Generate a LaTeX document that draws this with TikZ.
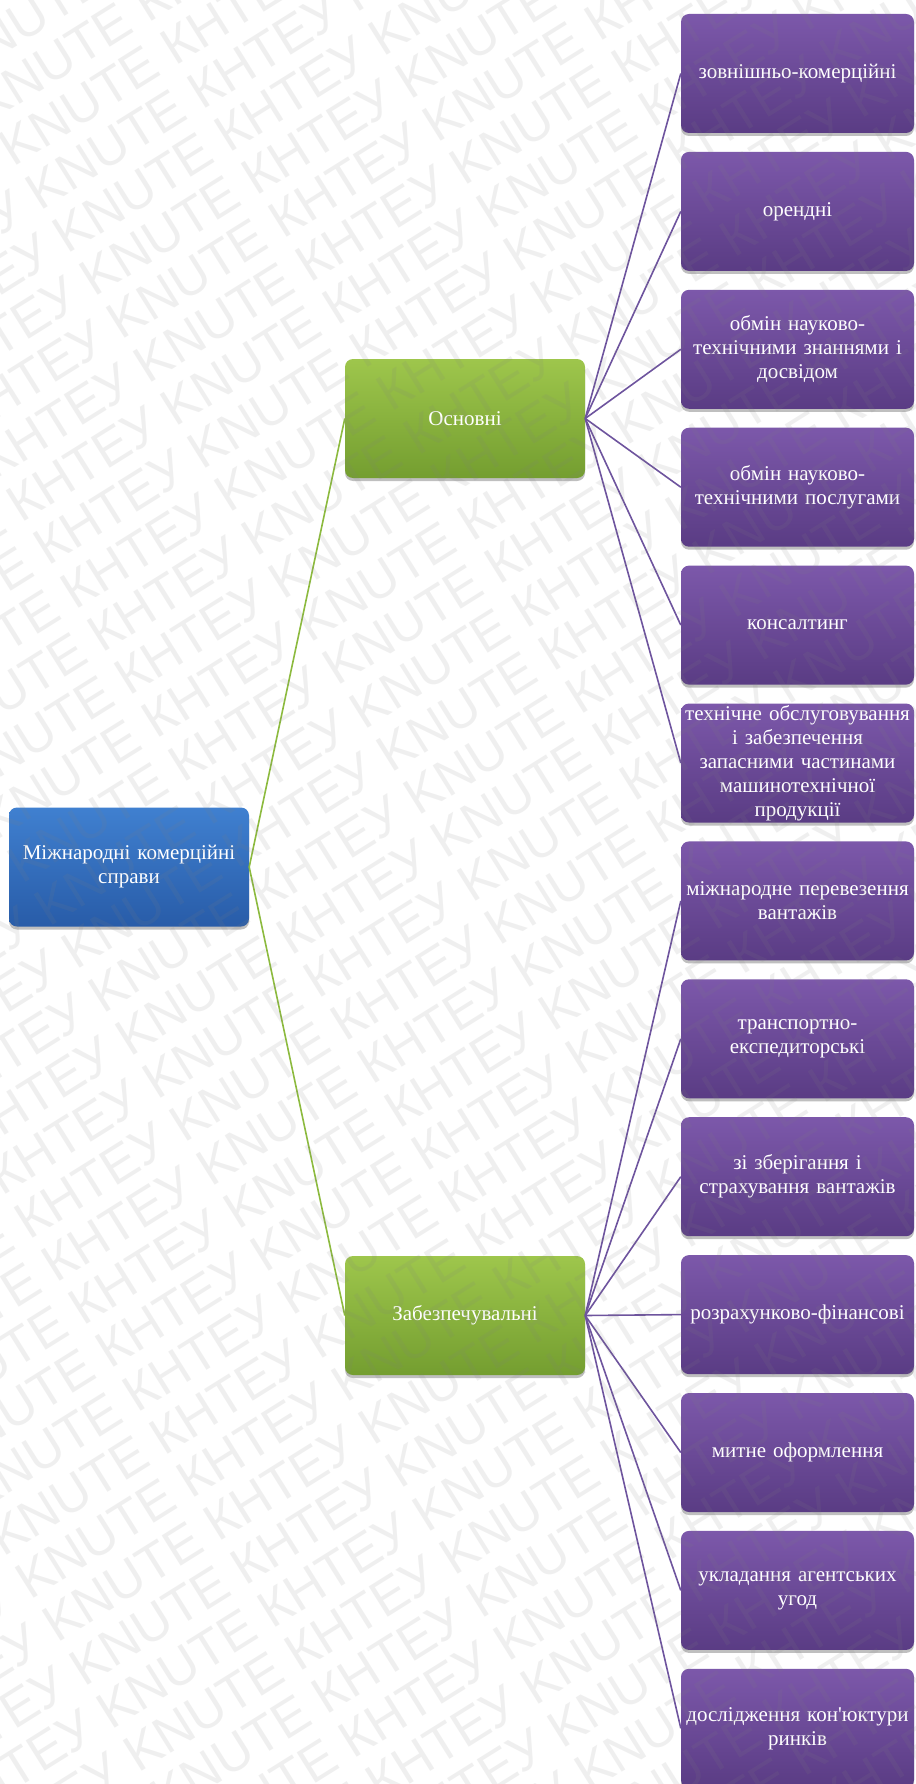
\documentclass[tikz,border=0pt]{standalone}
\usepackage{fontspec}
\setmainfont{Liberation Serif}
\newfontfamily\wmfont{Liberation Sans}
\usetikzlibrary{shadows}
\definecolor{bluetop}{RGB}{64,128,208}
\definecolor{bluebot}{RGB}{40,92,168}
\definecolor{greentop}{RGB}{158,198,76}
\definecolor{greenbot}{RGB}{116,158,48}
\definecolor{purtop}{RGB}{124,88,170}
\definecolor{purbot}{RGB}{90,60,132}
\definecolor{greenline}{RGB}{140,186,62}
\definecolor{purline}{RGB}{110,84,158}
\tikzset{
  basebox/.style={rounded corners=8pt, minimum height=119pt, inner sep=0pt,
    align=center, text=white, font=\fontsize{21}{24}\selectfont,
    drop shadow={shadow xshift=0pt, shadow yshift=-3pt, opacity=0.25, fill=black}},
  rootbox/.style={basebox, text width=240pt, top color=bluetop, bottom color=bluebot},
  midbox/.style={basebox, text width=240pt, top color=greentop, bottom color=greenbot},
  leafbox/.style={basebox, text width=233pt, top color=purtop, bottom color=purbot},
  glink/.style={draw=greenline, line width=1.6pt},
  plink/.style={draw=purline, line width=1.6pt},
  wm/.style={font=\wmfont\fontsize{52}{52}\selectfont, text=black!50, text opacity=0.12, inner sep=0pt}
}
\begin{document}
\begin{tikzpicture}[x=1pt,y=-1pt]
\useasboundingbox (0,0) rectangle (915,1784);
\fill[white] (0,0) rectangle (915,1784);

\node[rootbox] (root) at (129,867) {Міжнародні комерційні\\справи};
\node[midbox] (g1) at (465,418.5) {Основні};
\node[midbox] (g2) at (465,1315.5) {Забезпечувальні};

\node[leafbox] (l0) at (797.5,73.5) {зовнішньо-комерційні};
\node[leafbox] (l1) at (797.5,211.4) {орендні};
\node[leafbox] (l2) at (797.5,349.3) {обмін науково-\\технічними знаннями і\\досвідом};
\node[leafbox] (l3) at (797.5,487.2) {обмін науково-\\технічними послугами};
\node[leafbox] (l4) at (797.5,625.1) {консалтинг};
\node[leafbox] (l5) at (797.5,763.0) {\makebox[233pt]{технічне обслуговування}\\і забезпечення\\запасними частинами\\машинотехнічної\\продукції};
\node[leafbox] (l6) at (797.5,900.9) {міжнародне перевезення\\вантажів};
\node[leafbox] (l7) at (797.5,1038.8) {транспортно-\\експедиторські};
\node[leafbox] (l8) at (797.5,1176.7) {зі зберігання і\\страхування вантажів};
\node[leafbox] (l9) at (797.5,1314.6) {розрахунково-фінансові};
\node[leafbox] (l10) at (797.5,1452.5) {митне оформлення};
\node[leafbox] (l11) at (797.5,1590.4) {укладання агентських\\угод};
\node[leafbox] (l12) at (797.5,1728.3) {дослідження кон\textquotesingle юктури\\ринків};

\draw[glink] (root.east) -- (g1.west);
\draw[glink] (root.east) -- (g2.west);
\foreach \k in {0,...,5} \draw[plink] (g1.east) -- (l\k.west);
\foreach \k in {6,...,12} \draw[plink] (g2.east) -- (l\k.west);

\begin{scope}
\clip (0,0) rectangle (915,1784);
\foreach \i in {-21,...,21}
  \node[wm, rotate=32] (wm\i) at ({457.5+27.0*\i},{892+43.25*\i})
    {KNUTE КНТЕУ KNUTE КНТЕУ KNUTE КНТЕУ KNUTE КНТЕУ KNUTE КНТЕУ KNUTE КНТЕУ};
\end{scope}
\end{tikzpicture}
\end{document}
